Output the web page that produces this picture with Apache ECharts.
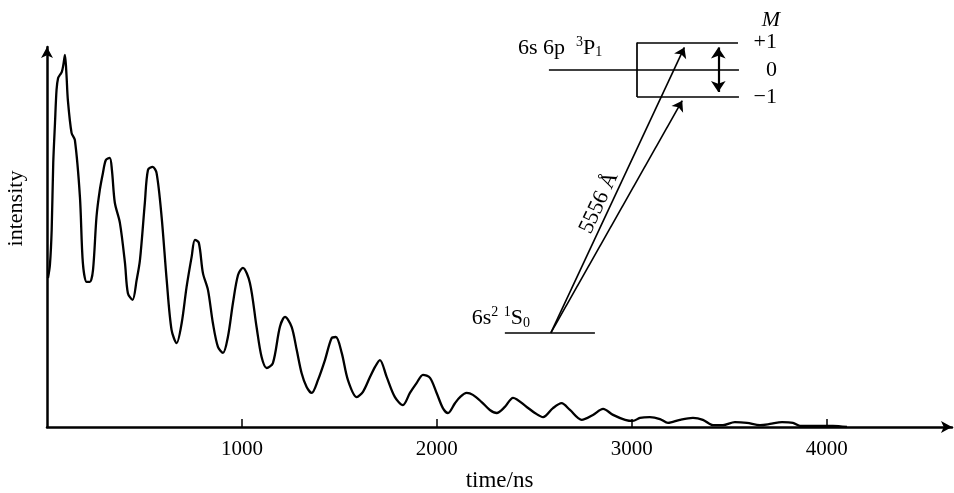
<!DOCTYPE html>
<html><head><meta charset="utf-8">
<script src="https://cdn.jsdelivr.net/npm/echarts@6/dist/echarts.min.js"></script>
<style>html,body{margin:0;padding:0;background:#fff}#c{width:954px;height:493px}</style>
</head><body><div id="c"></div>
<script>
// ---- data ----
const timeNs = [5,15,24,32,41,49,57,66,76,84,92,100,107,126,
143,169,184,203,220,236,254,271,287,302,
322,333,348,374,400,415,439,460,477,502,
518,542,562,588,614,639,665,691,716,742,
759,779,800,826,851,877,903,928,954,980,
1005,1041,1075,1101,1127,1159,1195,1221,1255,1281,
1306,1332,1358,1390,1426,1460,1482,1512,1544,1589,
1621,1657,1683,1708,1743,1785,1826,1862,1896,1929,
1965,1999,2031,2057,2093,2119,2153,2185,2230,2272,
2307,2349,2391,2461,2503,2545,2596,2640,2683,2743,
2801,2853,2904,2966,3006,3042,3093,3145,3186,3247,
3314,3365,3417,3468,3529,3591,3658,3709,3771,3827,
3863,4032,4104];
const intensity = [39.4,42.9,52.1,69.8,80.4,89.2,92.3,93.1,93.9,95.8,98.4,93.1,86.5,77.8,
75.9,60.8,43.4,38.4,38.4,41.5,55.6,62.7,67.2,70.6,
71.2,68.0,59.3,54.0,43.4,35.4,33.6,38.9,44.2,59.3,
68.0,68.8,67.2,55.6,38.9,25.7,22.2,27.5,37.0,45.0,
49.5,48.7,40.7,36.2,27.5,21.2,19.6,23.8,32.8,40.2,
42.1,38.1,26.5,18.5,15.6,16.9,26.5,29.1,26.5,20.4,
14.3,10.6,9.0,12.4,17.7,23.5,23.8,19.6,12.4,7.9,
9.3,13.2,15.9,17.7,13.2,7.9,5.8,9.0,11.6,13.8,
13.0,9.0,5.0,3.7,6.3,7.9,9.0,8.5,6.6,4.5,
3.7,5.3,7.7,5.3,3.7,2.6,5.0,6.3,4.5,1.9,
3.2,4.8,3.2,1.9,1.6,2.4,2.6,2.1,1.1,1.9,
2.4,1.9,0.5,0.5,1.3,1.1,0.5,0.8,1.3,1.1,
0.3,0.3,0];
const xTickValues = [1000, 2000, 3000, 4000];

// ---- inset energy-level diagram (in axis units) ----
const levelSegments = [
  [[3027,101.7],[3545,101.7]],
  [[2575,94.4],[3550,94.4]],
  [[3027,87.3],[3550,87.3]],
  [[3027,87.3],[3027,101.7]],
  [[2349,24.9],[2811,24.9]]
];
const excitationArrows = [
  [[2585,24.9],[3270,100.4]],
  [[2585,24.9],[3259,86.3]]
];
const splitArrow = [[3444,88.6],[3444,100.4]];
const diagramTexts = [
  {pos:[2416,100.3], text:'6s 6p  {sup|3}P{sub|1}', anchor:'right'},
  {pos:[2179,28.8], text:'6s{sup|2} {sup|1}S{sub|0}', anchor:'right'},
  {pos:[3745,101.7], text:'+1', anchor:'left'},
  {pos:[3745,94.4], text:'0', anchor:'left'},
  {pos:[3745,87.3], text:'\u22121', anchor:'left'},
  {pos:[3714,107.7], text:'M', anchor:'inside', italic:true},
  {pos:[2832,59.3], text:'5556 \u00C5', anchor:'inside', rotate:65}
];

const FONT = "'Liberation Serif','DejaVu Serif',serif";
const rich = {
  sup: {fontSize: 14, fontFamily: FONT, color:'#000', padding: [0,0,11,0]},
  sub: {fontSize: 14, fontFamily: FONT, color:'#000', padding: [10,0,0,0]}
};

const chart = echarts.init(document.getElementById('c'), null, {renderer:'canvas'});
chart.setOption({
  backgroundColor: '#fff',
  animation: false,
  grid: {left: 47, right: 2, top: 47, bottom: 66, containLabel: false, outerBoundsMode: 'none'},
  xAxis: {
    type: 'value', min: 0, max: 4643, interval: 1000,
    name: 'time/ns', nameLocation: 'middle', nameGap: 42,
    nameTextStyle: {fontFamily: FONT, fontSize: 23, color: '#000'},
    axisLine: {show: true, lineStyle: {color: '#000', width: 2.5},
      symbol: ['none','arrow'], symbolSize: [9, 11]},
    axisTick: {show: true, inside: true, length: 8, customValues: xTickValues,
      lineStyle: {color: '#000', width: 1.5}},
    axisLabel: {show: true, customValues: xTickValues, margin: 12,
      formatter: v => String(v),
      fontFamily: FONT, fontSize: 21, color: '#000'},
    splitLine: {show: false}
  },
  yAxis: {
    type: 'value', min: 0, max: 100.5,
    name: 'intensity', nameLocation: 'middle', nameGap: 20, nameRotate: 90,
    nameTextStyle: {fontFamily: FONT, fontSize: 22, color: '#000', padding: [0,0,0,57]},
    axisLine: {show: true, lineStyle: {color: '#000', width: 2.5},
      symbol: ['none','arrow'], symbolSize: [9, 11]},
    axisTick: {show: false}, axisLabel: {show: false}, splitLine: {show: false}
  },
  series: [
    {
      type: 'line', data: timeNs.map((t,i)=>[t, intensity[i]]),
      showSymbol: false, smooth: 0.3,
      lineStyle: {color: '#000', width: 2.3}, silent: true
    },
    {
      type: 'lines', coordinateSystem: 'cartesian2d', clip: false, silent: true,
      symbol: 'none',
      lineStyle: {color: '#000', width: 1.7, curveness: 0, opacity: 1},
      data: levelSegments.map(c => ({coords: c}))
    },
    {
      type: 'lines', coordinateSystem: 'cartesian2d', clip: false, silent: true,
      symbol: ['none','arrow'], symbolSize: 10,
      lineStyle: {color: '#000', width: 1.6, curveness: 0, opacity: 1},
      data: excitationArrows.map(c => ({coords: c}))
    },
    {
      type: 'lines', coordinateSystem: 'cartesian2d', clip: false, silent: true,
      symbol: ['arrow','arrow'], symbolSize: 11,
      lineStyle: {color: '#000', width: 2.2, curveness: 0, opacity: 1},
      data: [{coords: splitArrow}]
    },
    {
      type: 'scatter', clip: false, silent: true, symbolSize: 0,
      itemStyle: {opacity: 1, color: '#000'},
      data: diagramTexts.map(d => ({
        value: d.pos,
        label: {
          show: true, formatter: d.text, position: d.anchor, distance: 0,
          rotate: d.rotate || 0, opacity: 1, textBorderWidth: 0,
          fontFamily: FONT, fontSize: 22, color: '#000',
          fontStyle: d.italic ? 'italic' : 'normal', rich: rich
        }
      }))
    }
  ]
});
</script>
</body></html>
